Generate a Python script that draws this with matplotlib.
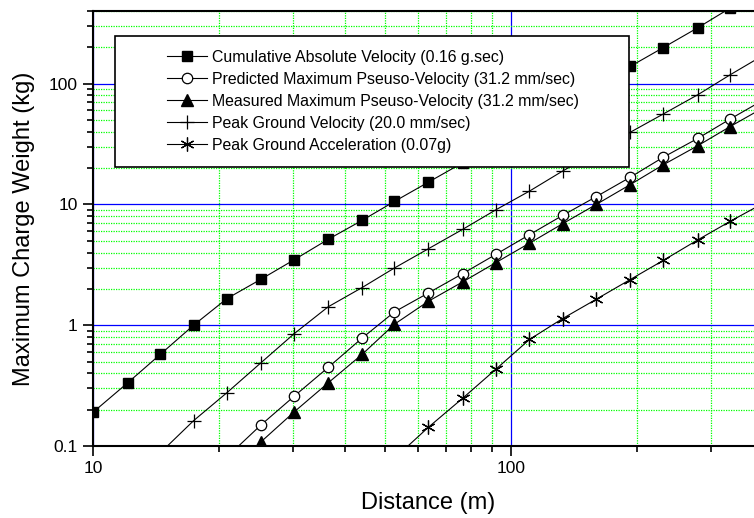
import matplotlib
matplotlib.use('Agg')
import matplotlib.pyplot as plt
from matplotlib.patches import Rectangle
from matplotlib.ticker import LogLocator, FuncFormatter, NullFormatter

plt.rcParams['font.family'] = ['Liberation Sans', 'DejaVu Sans']

# distances (m), shared by all series
dist = [10, 12.1, 14.5, 17.4, 20.9, 25.2, 30.3, 36.5, 44.0, 52.6, 63.4,
        76.5, 91.9, 110.6, 132.7, 159.7, 192.6, 231, 279.6, 334, 402]

# maximum charge weight (kg)
cav = [0.19, 0.333, 0.575, 1.0, 1.66, 2.40, 3.49, 5.14, 7.38, 10.6, 15.3,
       22.1, 32.1, 46.5, 67.4, 97.7, 139, 199, 291, 423]
pred_ppv = [0.081, 0.149, 0.259, 0.447, 0.782, 1.29, 1.85, 2.67, 3.86, 5.62,
            8.11, 11.6, 16.8, 24.6, 35.3, 51.0, 73.7]
meas_ppv = [0.058, 0.108, 0.192, 0.333, 0.573, 1.02, 1.58, 2.28, 3.30, 4.78,
            6.92, 10.0, 14.6, 21.3, 30.7, 44.2, 63.6]
pgv = [0.088, 0.162, 0.276, 0.488, 0.853, 1.42, 2.05, 2.98, 4.30, 6.21,
       9.03, 12.9, 18.9, 27.3, 39.6, 56.1, 81.1, 118.6, 173]
pga = [0.079, 0.143, 0.248, 0.432, 0.762, 1.135, 1.64, 2.39, 3.44, 5.10,
       7.25, 10.3]

labels = ['Cumulative Absolute Velocity (0.16 g.sec)',
          'Predicted Maximum Pseuso-Velocity (31.2 mm/sec)',
          'Measured Maximum Pseuso-Velocity (31.2 mm/sec)',
          'Peak Ground Velocity (20.0 mm/sec)',
          'Peak Ground Acceleration (0.07g)']

fig = plt.figure(figsize=(7.54, 5.18), dpi=100)
ax = fig.add_axes([0.1233, 0.139, 0.8886, 0.8398])

lw = 0.8
ax.plot(dist[:len(cav)], cav, '-s', color='black', lw=lw, ms=7, label=labels[0])
ax.plot(dist[4:4 + len(pred_ppv)], pred_ppv, '-o', color='black', lw=lw, ms=7.5,
        mfc='white', mec='black', mew=0.9, label=labels[1])
ax.plot(dist[4:4 + len(meas_ppv)], meas_ppv, '-^', color='black', lw=lw, ms=8,
        label=labels[2])
ax.plot(dist[2:2 + len(pgv)], pgv, '-', marker='+', color='black', lw=lw, ms=10,
        mew=0.9, label=labels[3])
ax.plot(dist[9:9 + len(pga)], pga, '-', marker=(6, 2, 0), color='black', lw=lw,
        ms=10, mew=0.9, label=labels[4])

ax.set_xscale('log')
ax.set_yscale('log')
ax.set_xlim(10, 400)
ax.set_ylim(0.1, 400)

for axis in (ax.xaxis, ax.yaxis):
    axis.set_major_locator(LogLocator(base=10))
    axis.set_minor_locator(LogLocator(base=10, subs=range(2, 10)))
    axis.set_major_formatter(FuncFormatter(lambda v, p: '{:g}'.format(v)))
    axis.set_minor_formatter(NullFormatter())

ax.set_axisbelow(True)
ax.grid(which='major', color='#0000ff', lw=0.9, ls='-')
ax.grid(which='minor', color='#00ff00', lw=0.9, ls=(0, (1, 1)))

for s in ['left', 'bottom', 'top']:
    ax.spines[s].set_linewidth(1.5)
ax.spines['right'].set_visible(False)
ax.tick_params(which='both', direction='out', top=False, right=False,
               labelsize=12.5, width=1.2)
ax.tick_params(which='major', length=7, pad=4)
ax.tick_params(which='minor', length=4)

ax.set_xlabel('Distance (m)', fontsize=17, va='center')
ax.set_ylabel('Maximum Charge Weight (kg)', fontsize=17, va='center')
ax.xaxis.set_label_coords(0.5, -0.131)
ax.yaxis.set_label_coords(-0.103, 0.5)

# legend box drawn as a patch so the entries sit centred inside it
box = Rectangle((0.0328, 0.6414), 0.7672, 0.3011, transform=ax.transAxes,
                facecolor='white', edgecolor='black', lw=1.2, zorder=4)
ax.add_patch(box)
ax.legend(loc='center', bbox_to_anchor=(0.418, 0.792), frameon=False,
          fontsize=11.4, handlelength=2.55, handletextpad=0.32,
          labelspacing=0.44, borderpad=0)

fig.savefig('out.png', dpi=100)
